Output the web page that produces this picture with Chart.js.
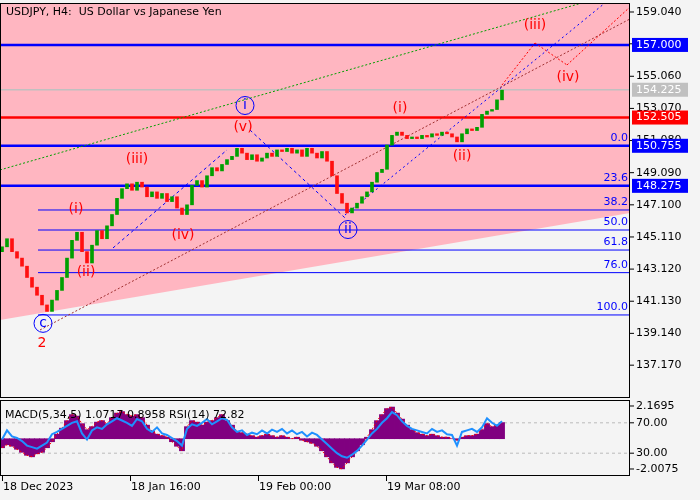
<!DOCTYPE html>
<html><head><meta charset="utf-8">
<script src="https://cdn.jsdelivr.net/npm/chart.js@4"></script>
<style>
html,body{margin:0;padding:0;background:#f4f4f4;width:700px;height:500px;overflow:hidden}
#c1{position:absolute;left:0;top:0}
#c2{position:absolute;left:0;top:398px}
</style></head><body>
<canvas id="c1" width="700" height="398"></canvas>
<canvas id="c2" width="700" height="102"></canvas>
<script>
const title = "USDJPY, H4:  US Dollar vs Japanese Yen";
const closes = [
144.5,145.0,144.2,143.8,143.3,142.6,142.0,141.5,140.9,140.5,
141.2,141.8,142.6,143.8,144.9,145.4,144.2,143.5,144.6,145.5,
145.0,145.8,146.5,147.5,148.1,148.4,148.0,148.5,148.2,147.6,
147.9,147.5,147.8,147.3,147.6,146.9,146.5,147.1,148.3,148.6,
148.2,148.9,149.4,149.2,149.6,149.9,150.1,150.6,150.3,149.9,
150.2,149.8,150.0,150.3,150.1,150.5,150.4,150.6,150.3,150.5,
150.1,150.6,150.3,150.0,150.4,149.8,148.9,147.8,147.2,146.6,
146.9,147.2,147.6,147.9,148.5,149.1,149.3,150.8,151.4,151.6,
151.4,151.2,151.3,151.2,151.4,151.3,151.5,151.4,151.6,151.5,
151.3,151.0,151.5,151.8,151.7,151.9,152.7,152.9,153.0,153.6,154.2];
const rsi = [
48,60,52,50,46,40,38,36,40,44,
55,58,62,66,70,72,56,48,60,64,
62,68,72,76,73,70,66,75,72,62,
58,64,56,54,50,46,40,62,68,66,
70,75,68,72,76,74,64,58,60,54,
57,55,60,56,61,58,62,56,60,55,
58,52,57,54,48,42,36,30,26,24,
28,33,40,48,56,62,70,76,84,80,
72,66,62,60,58,56,62,58,60,55,
54,40,58,60,62,58,64,76,70,66,72];
const macd = [
-0.6,-0.4,-0.5,-0.7,-0.9,-1.1,-1.2,-1.0,-0.9,-0.6,
-0.2,0.3,0.7,1.2,1.6,1.5,1.0,0.6,0.8,1.1,
1.2,1.0,1.4,1.7,1.8,1.6,1.5,1.6,1.4,0.9,
0.5,0.3,0.2,0.1,-0.2,-0.5,-0.8,0.8,1.2,1.1,
0.9,1.1,1.2,1.4,1.6,1.2,0.9,0.5,0.4,0.3,
0.2,0.1,0.2,0.3,0.2,0.1,0.2,0.1,0.0,0.1,
-0.1,-0.2,-0.3,-0.5,-0.8,-1.2,-1.6,-1.9,-2.0,-1.6,
-1.2,-0.8,-0.4,0.1,0.6,1.2,1.6,2.0,2.1,1.7,
1.3,0.9,0.6,0.4,0.3,0.2,0.3,0.2,0.1,0.1,
0.0,-0.1,0.1,0.2,0.2,0.3,0.6,1.0,0.8,0.9,1.07];
const priceTicks = [159.040,157.070,155.060,153.070,151.080,149.090,147.100,145.110,143.120,141.130,139.140,137.170];
const levels = [
 {v:157.000, color:'#0000ff', w:2.5, box:'#0000ff', text:'#fff'},
 {v:154.225, color:'#c0c0c0', w:1.5, box:'#c0c0c0', text:'#fff'},
 {v:152.505, color:'#ff0000', w:2.5, box:'#ff0000', text:'#fff'},
 {v:150.755, color:'#0000ff', w:2.5, box:'#0000ff', text:'#fff'},
 {v:148.275, color:'#0000ff', w:2.5, box:'#0000ff', text:'#fff'}];
const fibNames = ['0.0','23.6','38.2','50.0','61.8','76.0','100.0'];
const fibValues = [150.755,148.275,146.78,145.54,144.30,142.90,140.28];
const xLabels = [{i:0,t:'18 Dec 2023'},{i:25.6,t:'18 Jan 16:00'},{i:51.2,t:'19 Feb 00:00'},{i:76.8,t:'19 Mar 08:00'}];
const waves = [
 {i:14.8,p:146.8,t:'(i)',c:'red'},{i:16.8,p:142.9,t:'(ii)',c:'red'},{i:27,p:149.9,t:'(iii)',c:'red'},
 {i:36.2,p:145.2,t:'(iv)',c:'red'},{i:48.2,p:151.9,t:'(v)',c:'red'},{i:79.6,p:153.1,t:'(i)',c:'red'},
 {i:92,p:150.1,t:'(ii)',c:'red'},{i:106.6,p:158.2,t:'(iii)',c:'red'},{i:113.2,p:155.0,t:'(iv)',c:'red'},
 {i:8,p:138.5,t:'2',c:'red'}];
const circles = [{i:48.6,p:153.25,t:'i'},{i:69.2,p:145.57,t:'ii'},{i:8.2,p:139.76,t:'c'}];
const trends = [
 {a:[-0.4,149.26],b:[116,159.6],c:'#00a000',d:[2,2]},
 {a:[7.6,139.35],b:[125.6,158.61],c:'#a03030',d:[2,2]},
 {a:[68.6,146.47],b:[120.6,159.6],c:'#0000ff',d:[2,3]},
 {a:[49.6,151.73],b:[68.6,146.29],c:'#0000ff',d:[3,3]},
 {a:[22.2,144.43],b:[45,150.5],c:'#0000ff',d:[3,3]},
 {a:[100,154.52],b:[106.6,157.12],c:'#ff0000',d:[2,2]},
 {a:[106.6,157.12],b:[113,155.76],c:'#ff0000',d:[2,2]},
 {a:[113,155.76],b:[125.6,159.35],c:'#ff0000',d:[2,2]}];
const pinkEdge = [[-0.4,139.97],[125.6,146.6]];

const XMIN=-0.4, XMAX=125.6;
const font = '11px "DejaVu Sans", sans-serif';
const candles = closes.map((c,i)=>({x:i,y:[i?closes[i-1]:c-0.3,c]}));
const cColors = candles.map(d=>d.y[1]>=d.y[0]?'#00a000':'#ff1010');

const ds = [];
ds.push({type:'line',data:pinkEdge.map(p=>({x:p[0],y:p[1]})),fill:'end',backgroundColor:'#ffb6c1',borderWidth:0,pointRadius:0,order:100});
levels.forEach(l=>ds.push({type:'line',data:[{x:XMIN,y:l.v},{x:XMAX,y:l.v}],borderColor:l.color,borderWidth:l.w,pointRadius:0,order:50}));
fibValues.slice(2).forEach(v=>ds.push({type:'line',data:[{x:7.2,y:v},{x:XMAX,y:v}],borderColor:'#0000ff',borderWidth:1,pointRadius:0,order:50}));
trends.forEach(t=>ds.push({type:'line',data:[{x:t.a[0],y:t.a[1]},{x:t.b[0],y:t.b[1]}],borderColor:t.c,borderWidth:1,borderDash:t.d,pointRadius:0,order:40}));
ds.push({type:'bar',data:candles,backgroundColor:cColors,borderWidth:0,barThickness:3,order:10});

const overlay1 = {id:'ov1',afterDatasetsDraw(ch){
  const g=ch.ctx,x=ch.scales.x,y=ch.scales.y,a=ch.chartArea;
  g.save();
  g.strokeStyle='#000';g.lineWidth=1;g.strokeRect(a.left+0.5,a.top+0.5,a.right-a.left-1,a.bottom-a.top);
  g.font=font;g.fillStyle='#000';g.textBaseline='middle';g.textAlign='left';
  priceTicks.forEach(v=>{const py=y.getPixelForValue(v);g.beginPath();g.moveTo(a.right,py);g.lineTo(a.right+4,py);g.stroke();g.fillText(v.toFixed(3),a.right+6,py);});
  levels.forEach(l=>{const py=y.getPixelForValue(l.v);g.fillStyle=l.box;g.fillRect(a.right+2,py-7,56,14);g.fillStyle=l.text;g.fillText(l.v.toFixed(3),a.right+6,py);});
  g.fillStyle='#0000ff';g.textAlign='right';g.textBaseline='bottom';
  fibValues.forEach((v,k)=>g.fillText(fibNames[k],a.right-2,y.getPixelForValue(v)-2));
  g.font='14px "DejaVu Sans", sans-serif';g.textAlign='center';g.textBaseline='middle';
  waves.forEach(w=>{g.fillStyle=w.c;g.fillText(w.t,x.getPixelForValue(w.i),y.getPixelForValue(w.p));});
  circles.forEach(c=>{const cx=x.getPixelForValue(c.i),cy=y.getPixelForValue(c.p);g.strokeStyle='#0000ff';g.beginPath();g.arc(cx,cy,9,0,Math.PI*2);g.stroke();g.fillStyle='#0000ff';g.fillText(c.t,cx,cy);});
  g.font=font;g.fillStyle='#000';g.textAlign='left';g.textBaseline='middle';g.fillText(title,6,12);
  g.restore();
}};

new Chart(document.getElementById('c1'),{type:'line',data:{datasets:ds},
 options:{responsive:false,animation:false,layout:{padding:{top:3,bottom:1,right:70,left:0}},
  plugins:{legend:{display:false},tooltip:{enabled:false}},
  scales:{x:{type:'linear',min:XMIN,max:XMAX,offset:false,display:false},
          y:{min:135.20,max:159.597,display:false}}},
 plugins:[overlay1]});

const ds2=[
 {type:'bar',data:macd.map((v,i)=>({x:i,y:v})),backgroundColor:'#800080',barThickness:5.2,yAxisID:'y',order:10},
 {type:'line',data:macd.map((v,i)=>({x:i,y:v})),borderColor:'#ff0000',borderWidth:1,borderDash:[2,2],pointRadius:0,yAxisID:'y',order:5},
 {type:'line',data:[{x:XMIN,y:70},{x:XMAX,y:70}],borderColor:'#bbbbbb',borderWidth:1,borderDash:[3,3],pointRadius:0,yAxisID:'y2',order:20},
 {type:'line',data:[{x:XMIN,y:30},{x:XMAX,y:30}],borderColor:'#bbbbbb',borderWidth:1,borderDash:[3,3],pointRadius:0,yAxisID:'y2',order:20},
 {type:'line',data:rsi.map((v,i)=>({x:i,y:v})),borderColor:'#1e90ff',borderWidth:2,pointRadius:0,tension:0,yAxisID:'y2',order:1}];
const overlay2={id:'ov2',afterDatasetsDraw(ch){
  const g=ch.ctx,x=ch.scales.x,m=ch.scales.y,r=ch.scales.y2,a=ch.chartArea;
  g.save();g.strokeStyle='#000';g.lineWidth=1;g.strokeRect(a.left+0.5,a.top+0.5,a.right-a.left-1,a.bottom-a.top-1);
  g.font=font;g.fillStyle='#000';g.textBaseline='middle';g.textAlign='left';
  [[m,2.1695,'2.1695'],[r,70,'70.00'],[r,30,'30.00'],[m,-2.0075,'-2.0075']].forEach(t=>{const py=t[0].getPixelForValue(t[1]);g.beginPath();g.moveTo(a.right,py);g.lineTo(a.right+4,py);g.stroke();g.fillText(t[2],a.right+6,py);});
  g.fillText('MACD(5,34,5) 1.0717 0.8958 RSI(14) 72.82',5,a.top+15);
  g.textBaseline='top';
  xLabels.forEach(l=>{const px=x.getPixelForValue(l.i);g.beginPath();g.moveTo(px+0.5,a.bottom);g.lineTo(px+0.5,a.bottom+5);g.stroke();g.fillText(l.t,px+1,a.bottom+6);});
  g.restore();
}};
new Chart(document.getElementById('c2'),{type:'line',data:{datasets:ds2},
 options:{responsive:false,animation:false,layout:{padding:{top:2,bottom:24,right:70,left:0}},
  plugins:{legend:{display:false},tooltip:{enabled:false}},
  scales:{x:{type:'linear',min:XMIN,max:XMAX,offset:false,display:false},
          y:{type:'linear',min:-2.472,max:2.567,display:false},
          y2:{type:'linear',min:0,max:100,display:false}}},
 plugins:[overlay2]});
</script></body></html>
